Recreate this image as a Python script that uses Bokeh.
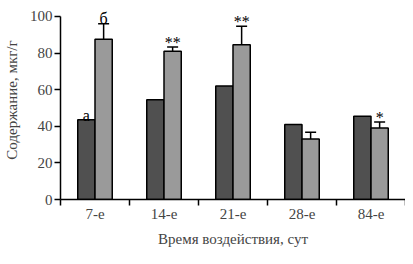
from bokeh.plotting import figure
from bokeh.models import Range1d, FixedTicker, ColumnDataSource, Whisker, LinearAxis
from bokeh.core.properties import value
from bokeh.embed import file_html
from bokeh.resources import INLINE

categories = ["7-е", "14-е", "21-е", "28-е", "84-е"]
dark_vals = [43.5, 54.5, 62.0, 41.0, 45.5]
light_vals = [87.5, 81.0, 84.5, 33.0, 39.0]
light_err = [8.5, 2.3, 10.2, 3.7, 3.3]
# annotations: (category index, series, text)
ann_idx = [0, 0, 1, 2, 4]
ann_series = ["dark", "light", "light", "light", "light"]
ann_text = ["а", "б", "**", "**", "*"]
y_ticks = [0, 20, 40, 60, 80, 100]

FONT = "'Liberation Serif', 'DejaVu Serif', serif"
W = 0.25

centers = [i + 0.5 for i in range(len(categories))]
p = figure(width=405, height=256, output_backend="svg", toolbar_location=None,
           x_range=Range1d(0, 5), y_range=Range1d(0, 108.7),
           x_axis_type=None, y_axis_type=None,
           min_border_left=55, min_border_right=0, min_border_top=0,
           min_border_bottom=57)
p.outline_line_color = None
p.grid.visible = False
p.background_fill_color = "white"

src = ColumnDataSource(dict(
    xd=[c - W / 2 for c in centers], xl=[c + W / 2 for c in centers],
    dark=dark_vals, light=light_vals,
    upper=[v + e for v, e in zip(light_vals, light_err)],
))
p.vbar(x="xd", top="dark", width=W, bottom=0, source=src,
       fill_color="#505050", line_color="black", line_width=1.5)
p.vbar(x="xl", top="light", width=W, bottom=0, source=src,
       fill_color="#9a9a9a", line_color="black", line_width=1.5)
wh = Whisker(base="xl", lower="light", upper="upper", source=src,
             line_color="black", line_width=1.5, lower_head=None)
wh.upper_head.size = 11
wh.upper_head.line_width = 1.5
wh.upper_head.line_color = "black"
p.add_layout(wh)

ax, ay, at = [], [], []
for i, s, t in zip(ann_idx, ann_series, ann_text):
    if s == "dark":
        ax.append(centers[i] - W / 2)
        ay.append(dark_vals[i] + 2.5)
    else:
        ax.append(centers[i] + W / 2)
        top = light_vals[i] + light_err[i]
        ay.append(top + 2.7)
    at.append(t)
p.text(x=ax, y=ay, text=at, text_align="center", text_baseline="alphabetic",
       text_font=value(FONT), text_font_size="16px", text_color="black")

xaxis = LinearAxis(ticker=FixedTicker(ticks=centers, minor_ticks=[0, 1, 2, 3, 4, 5]),
                   bounds=(0, 5))
xaxis.major_label_overrides = {c: lab for c, lab in zip(centers, categories)}
xaxis.major_tick_out = 0
xaxis.major_tick_in = 0
xaxis.minor_tick_out = 6
xaxis.minor_tick_in = 0
xaxis.minor_tick_line_width = 1.5
xaxis.axis_line_width = 1.5
xaxis.major_label_text_font = FONT
xaxis.major_label_text_font_size = "15px"
xaxis.major_label_standoff = 0
xaxis.axis_label = "Время воздействия, сут"
xaxis.axis_label_text_font = FONT
xaxis.axis_label_text_font_style = "normal"
xaxis.axis_label_text_font_size = "15px"
xaxis.axis_label_standoff = 6
p.add_layout(xaxis, "below")

yaxis = LinearAxis(ticker=FixedTicker(ticks=y_ticks), bounds=(0, 100))
yaxis.major_tick_out = 6
yaxis.major_tick_in = 0
yaxis.minor_tick_out = 0
yaxis.major_tick_line_width = 1.5
yaxis.axis_line_width = 1.5
yaxis.major_label_text_font = FONT
yaxis.major_label_text_font_size = "15px"
yaxis.major_label_standoff = 2
yaxis.axis_label = "Содержание, мкг/г"
yaxis.axis_label_text_font = FONT
yaxis.axis_label_text_font_style = "normal"
yaxis.axis_label_text_font_size = "15px"
yaxis.axis_label_standoff = 7
p.add_layout(yaxis, "left")

open("out.html", "w").write(file_html(p, INLINE))
